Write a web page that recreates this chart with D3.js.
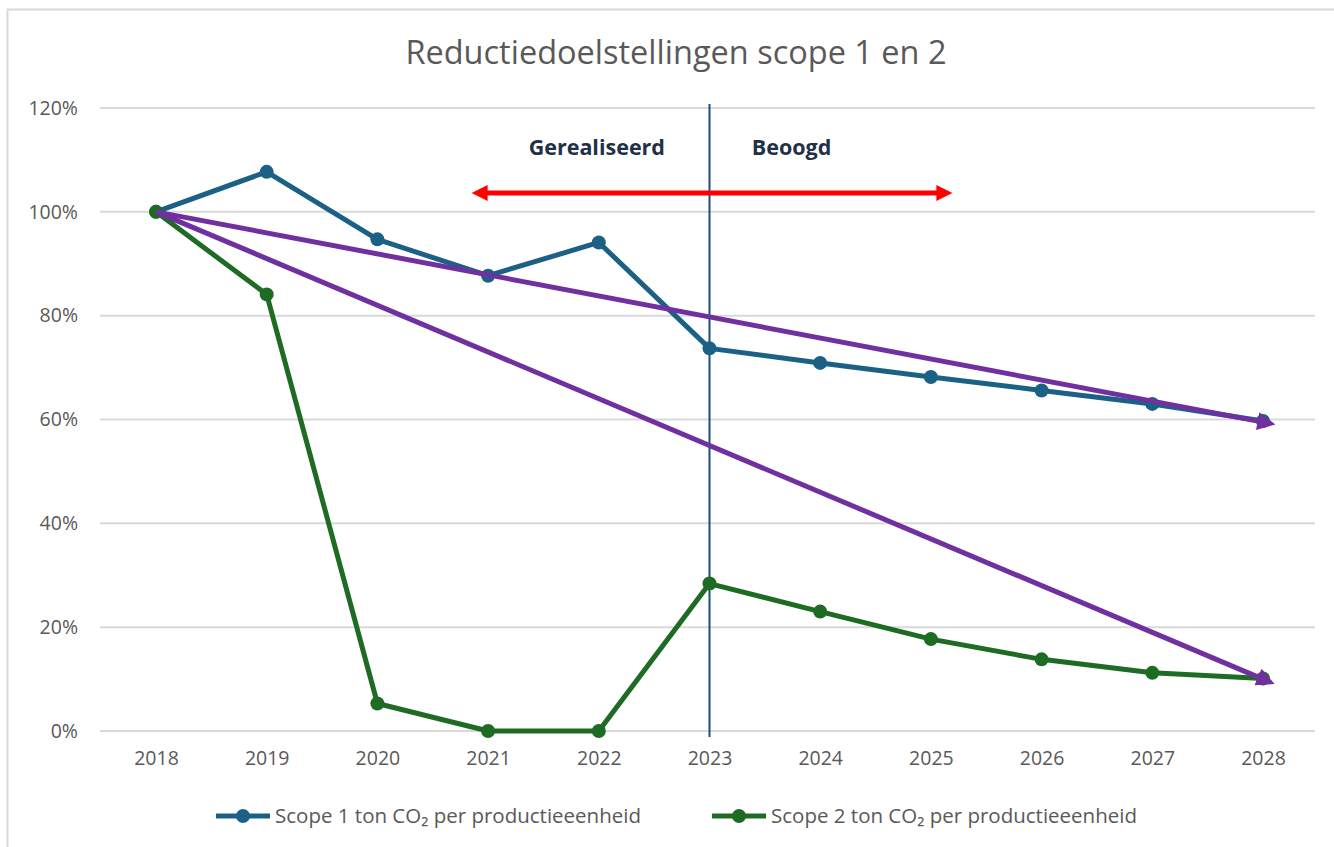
<!DOCTYPE html>
<html>
<head>
<meta charset="utf-8">
<script src="https://cdn.jsdelivr.net/npm/d3@7"></script>
<style>
body { margin: 0; background: #fff; }
svg { display: block; }
</style>
</head>
<body>
<svg id="drawing_region"></svg>
<script>
var years = [2018, 2019, 2020, 2021, 2022, 2023, 2024, 2025, 2026, 2027, 2028];
var scope1 = [100, 107.7, 94.7, 87.7, 94.1, 73.7, 70.9, 68.2, 65.6, 63.0, 59.7];
var scope2 = [100, 84.1, 5.3, 0, 0, 28.4, 23.0, 17.7, 13.8, 11.2, 10.1];
var target1 = [100, 59.5];   // doelstelling scope 1 (2018 -> 2028)
var target2 = [100, 10];     // doelstelling scope 2
var yticks = [0, 20, 40, 60, 80, 100, 120];

var width = 1334;
var height = 847;
var margin = {top:108, right:19, bottom:116, left:100};

var svg = d3.select('#drawing_region')
    .attr('width', width)
    .attr('height', height);

// chart frame
svg.append('rect')
    .attr('x', 7.5).attr('y', 9.5)
    .attr('width', 1340).attr('height', 900)
    .attr('fill', 'none')
    .attr('stroke', '#d9d9d9')
    .attr('stroke-width', 2);

const inner_width = width - margin.left - margin.right;
const inner_height = height - margin.top - margin.bottom;

var chart = svg.append('g')
    .attr('transform', `translate(${margin.left}, ${margin.top})`);

const xscale = d3.scalePoint()
    .domain(years)
    .range([56, inner_width - 52]);

const yscale = d3.scaleLinear()
    .domain([0, 120])
    .range([inner_height, 0]);

// gridlines
chart.selectAll('.grid').data(yticks).enter()
    .append('line')
    .attr('x1', 0).attr('x2', inner_width)
    .attr('y1', d => yscale(d)).attr('y2', d => yscale(d))
    .attr('stroke', '#d9d9d9')
    .attr('stroke-width', 2);

// y axis labels
const yaxis = d3.axisLeft(yscale)
    .tickValues(yticks)
    .tickFormat(d => d + '%')
    .tickSize(0)
    .tickPadding(22);
const yaxis_group = chart.append('g').call(yaxis);
yaxis_group.select('.domain').remove();
yaxis_group.selectAll('text')
    .attr('fill', '#595959')
    .style('font-family', '"Open Sans", sans-serif')
    .style('font-size', '19.5px');

// x axis labels
const xaxis = d3.axisBottom(xscale)
    .tickSize(0)
    .tickPadding(20);
const xaxis_group = chart.append('g')
    .attr('transform', `translate(0, ${inner_height})`)
    .call(xaxis);
xaxis_group.select('.domain').remove();
xaxis_group.selectAll('text')
    .attr('fill', '#595959')
    .style('font-family', '"Open Sans", sans-serif')
    .style('font-size', '19.5px');

// markers
var defs = svg.append('defs');
function arrow(id, color, w, h, rx) {
    defs.append('marker')
        .attr('id', id)
        .attr('viewBox', '0 0 10 10')
        .attr('refX', rx).attr('refY', 5)
        .attr('markerUnits', 'userSpaceOnUse')
        .attr('markerWidth', w).attr('markerHeight', h)
        .attr('orient', 'auto-start-reverse')
        .append('path')
        .attr('d', 'M0,0 L10,5 L0,10 Z')
        .attr('fill', color);
}
arrow('arr-red', '#ff0000', 18, 16, 6);
arrow('arr-purple', '#7030a0', 20, 18, 3);

// vertical divider at 2023
chart.append('line')
    .attr('x1', xscale(2023)).attr('x2', xscale(2023))
    .attr('y1', -4).attr('y2', inner_height + 6)
    .attr('stroke', '#1f4e79')
    .attr('stroke-width', 2);

// red double arrow
chart.append('line')
    .attr('x1', 378).attr('x2', 846)
    .attr('y1', 85).attr('y2', 85)
    .attr('stroke', '#ff0000')
    .attr('stroke-width', 5)
    .attr('marker-start', 'url(#arr-red)')
    .attr('marker-end', 'url(#arr-red)');

chart.append('text')
    .attr('x', xscale(2022) - 2).attr('y', 47)
    .attr('text-anchor', 'middle')
    .attr('fill', '#1f3049')
    .style('font-family', '"Open Sans", sans-serif')
    .style('font-weight', 'bold')
    .style('font-size', '21.5px')
    .text('Gerealiseerd');
chart.append('text')
    .attr('x', xscale(2023) + 82).attr('y', 47)
    .attr('text-anchor', 'middle')
    .attr('fill', '#1f3049')
    .style('font-family', '"Open Sans", sans-serif')
    .style('font-weight', 'bold')
    .style('font-size', '21.5px')
    .text('Beoogd');

// series
var series = [
    {name: 'Scope 1 ton CO₂ per productieeenheid', values: scope1, color: '#1b6185'},
    {name: 'Scope 2 ton CO₂ per productieeenheid', values: scope2, color: '#1e6b23'}
];

const line = d3.line()
    .x((d, i) => xscale(years[i]))
    .y(d => yscale(d));

series.forEach(function(s) {
    chart.append('path')
        .datum(s.values)
        .attr('d', line)
        .attr('fill', 'none')
        .attr('stroke', s.color)
        .attr('stroke-width', 5)
        .attr('stroke-linejoin', 'round');
    chart.selectAll(null).data(s.values).enter()
        .append('circle')
        .attr('cx', (d, i) => xscale(years[i]))
        .attr('cy', d => yscale(d))
        .attr('r', 7)
        .attr('fill', s.color);
});

// purple target arrows
[target1, target2].forEach(function(t) {
    chart.append('line')
        .attr('x1', xscale(2018)).attr('y1', yscale(t[0]))
        .attr('x2', xscale(2028)).attr('y2', yscale(t[1]))
        .attr('stroke', '#7030a0')
        .attr('stroke-width', 5)
        .attr('marker-end', 'url(#arr-purple)');
});

// title
svg.append('text')
    .attr('x', 676).attr('y', 64)
    .attr('text-anchor', 'middle')
    .attr('fill', '#595959')
    .style('font-family', '"Open Sans", sans-serif')
    .style('font-size', '32.5px')
    .text('Reductiedoelstellingen scope 1 en 2');

// legend
var legend = svg.append('g');
var lx = [216, 712];
series.forEach(function(s, i) {
    var g = legend.append('g').attr('transform', `translate(${lx[i]}, 816)`);
    g.append('line')
        .attr('x1', 0).attr('x2', 54)
        .attr('y1', 0).attr('y2', 0)
        .attr('stroke', s.color)
        .attr('stroke-width', 5);
    g.append('circle')
        .attr('cx', 27).attr('cy', 0).attr('r', 7)
        .attr('fill', s.color);
    g.append('text')
        .attr('x', 59).attr('y', 7)
        .attr('fill', '#595959')
        .style('font-family', '"Open Sans", sans-serif')
        .style('font-size', '20.5px')
        .text(s.name);
});
</script>
</body>
</html>
